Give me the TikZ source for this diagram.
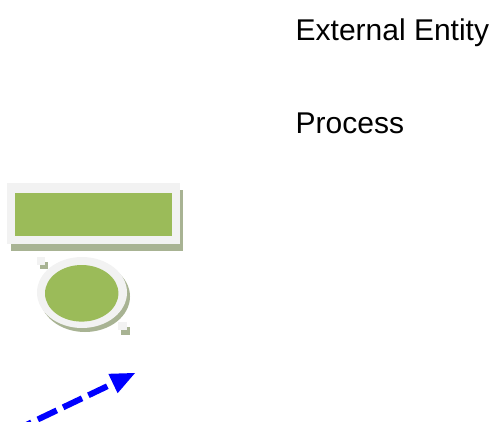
\documentclass[tikz,border=0pt]{standalone}
\usepackage{fontspec}
\setmainfont{Liberation Sans}
\usetikzlibrary{arrows.meta,shapes.geometric}
\definecolor{fillgreen}{HTML}{9BBB59}
\definecolor{rimgray}{HTML}{F2F2F2}
\definecolor{shadowgray}{HTML}{A8B393}
\definecolor{flowblue}{HTML}{0000FF}
\tikzset{
  labeltext/.style={anchor=base west, inner sep=0pt, font=\fontsize{30pt}{36pt}\selectfont, text=black},
  flow/.style={draw=flowblue, line width=6pt, dash pattern=on 21pt off 7pt, dash phase=16pt,
    -{Triangle[length=24.4pt,width=21.5pt,line width=0pt]}},
}
\begin{document}
\begin{tikzpicture}[x=1pt,y=-1pt]
\useasboundingbox (0,0) rectangle (493,421);
\clip (0,0) rectangle (493,421);
% external entity symbol
\fill[shadowgray] (10.5,189.5) rectangle (183,250.5);
\fill[rimgray] (7.3,183) rectangle (180,243.5);
\fill[fillgreen] (15,193) rectangle (172.3,235.7);
% process symbol
\fill[shadowgray] (85,296.5) ellipse [x radius=45, y radius=35.5];
\fill[rimgray] (82,292.5) ellipse [x radius=45, y radius=35.5];
\fill[fillgreen] (81.7,293.3) ellipse [x radius=36.7, y radius=28.3];
% handles
\fill[shadowgray] (40,261.7) rectangle (48.3,269);
\fill[rimgray] (36.7,256.7) rectangle (45,265);
\fill[shadowgray] (121,326.7) rectangle (130,335);
\fill[rimgray] (118.3,321.7) rectangle (126.7,330);
% labels
\node[labeltext] (ee) at (295.5,40.5) {External Entity};
\node[labeltext] (pr) at (295.5,133.5) {Process};
% data flow arrow
\coordinate (flowstart) at (27,424.6);
\coordinate (flowend) at (135,373);
\draw[flow] (flowstart) -- (flowend);
\end{tikzpicture}
\end{document}
